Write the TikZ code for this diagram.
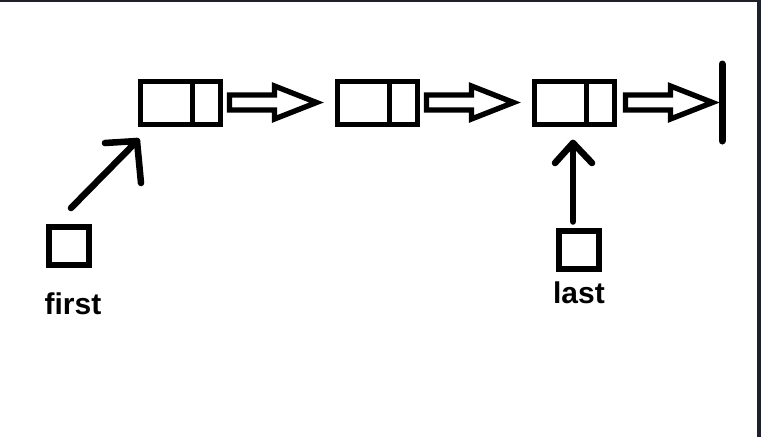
\documentclass[tikz,border=0pt]{standalone}
\usepackage{fontspec}
\setmainfont{Liberation Sans}
\usetikzlibrary{positioning, calc}
\definecolor{framedark}{RGB}{30,32,44}

\newcommand{\hollowarrow}[1]{%
  \draw[hollow, shift={(#1)}] (0,-7.5) -- (45,-7.5) -- (45,-16.5) -- (87,0)
    -- (45,16.5) -- (45,7.5) -- (0,7.5) -- cycle;}

\begin{document}
\begin{tikzpicture}[x=0.75pt, y=-0.75pt,
    cell/.style={draw, line width=3.75pt, outer sep=0pt, inner sep=0pt,
      minimum width=60pt, minimum height=32.25pt},
    ptrbox/.style={draw, line width=4.5pt, outer sep=0pt, inner sep=0pt,
      minimum width=30pt, minimum height=28.5pt},
    hollow/.style={line width=4pt},
    ptr/.style={line width=4.9pt, line cap=round, line join=round},
    lbl/.style={inner sep=0pt, font=\bfseries\fontsize{22.5}{22.5}\selectfont}]
        \useasboundingbox (0,0) rectangle (761,437);
        \fill[white] (0,0) rectangle (761,437);
        \fill[framedark] (0,0) rectangle (761,2);
        \fill[framedark] (757,0) rectangle (761,437);

        \node[cell] (a) at (180.5,102.5) {};
        \node[cell, right = 87.75pt of a] (b) {};
        \node[cell, right = 87.75pt of b] (c) {};
        \draw[hollow] ($(a.north west)!0.65!(a.north east)$) -- ($(a.south west)!0.65!(a.south east)$);
        \draw[hollow] ($(b.north west)!0.65!(b.north east)$) -- ($(b.south west)!0.65!(b.south east)$);
        \draw[hollow] ($(c.north west)!0.65!(c.north east)$) -- ($(c.south west)!0.65!(c.south east)$);

        \hollowarrow{$(a.east)+(9,0)$}
        \hollowarrow{$(b.east)+(9,0)$}
        \hollowarrow{$(c.east)+(11,0)$}
        \coordinate (nil) at ($(c.east)+(107.5,0)$);
        \draw[ptr, line width=5.25pt] ($(nil)+(0,-38.5)$) -- ($(nil)+(0,38.5)$);

        \node[ptrbox] (first) at (69,245.5) {};
        \node[ptrbox] (last) at (579,249.5) {};
        \node[lbl, below = 21pt of first, xshift=3pt] (firstlbl) {first};
        \node[lbl, below = 10pt of last] (lastlbl) {last};

        \coordinate (ftip) at ($(a.south west)+(-3.5,17)$);
        \draw[ptr] ($(first.north)+(2,-18.5)$) -- (ftip);
        \draw[ptr] ($(ftip)+(-32,2)$) -- (ftip) -- ($(ftip)+(4,42)$);

        \coordinate (ltip) at ($(c.south)+(-1.5,19)$);
        \draw[ptr] ($(ltip |- last.north)+(0,-9)$) -- (ltip);
        \draw[ptr] ($(ltip)+(-18,20)$) -- (ltip) -- ($(ltip)+(19,20)$);
\end{tikzpicture}
\end{document}
